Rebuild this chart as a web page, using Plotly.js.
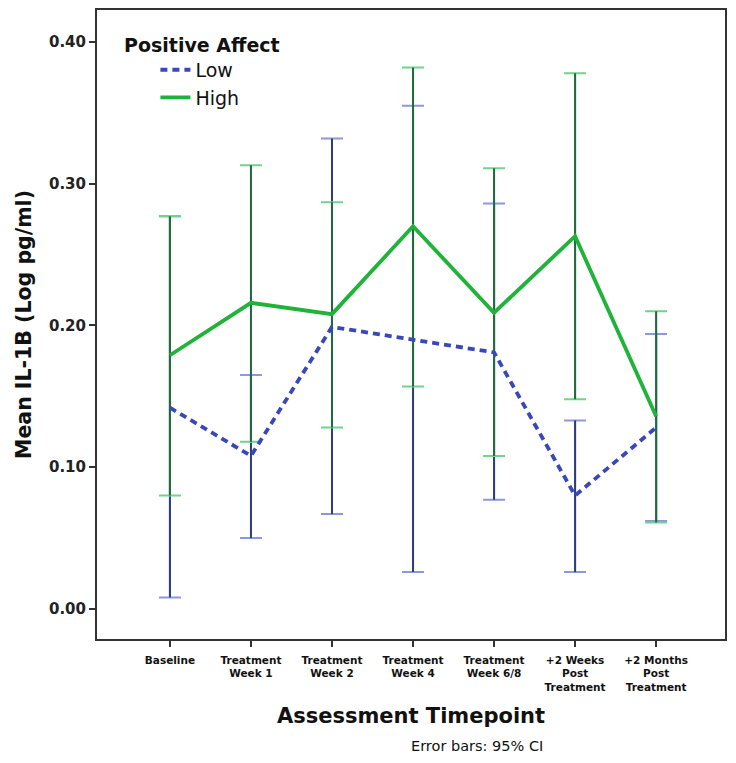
<!DOCTYPE html>
<html>
<head>
<meta charset="utf-8">
<script src="https://cdn.plot.ly/plotly-3.0.1.min.js"></script>
<style>
  body { margin: 0; background: #fff; }
  #chart { width: 736px; height: 763px; }
</style>
</head>
<body>
<div id="chart"></div>
<script>
// timepoints
let timepoints = ['Baseline', 'Treatment<br>Week 1', 'Treatment<br>Week 2', 'Treatment<br>Week 4',
                  'Treatment<br>Week 6/8', '+2 Weeks<br>Post<br>Treatment', '+2 Months<br>Post<br>Treatment'];

// Low positive affect: mean and 95% CI
let lowMean  = [0.142, 0.108, 0.199, 0.190, 0.181, 0.080, 0.128];
let lowUpper = [0.277, 0.165, 0.332, 0.355, 0.286, 0.133, 0.194];
let lowLower = [0.008, 0.050, 0.067, 0.026, 0.077, 0.026, 0.062];

// High positive affect
let highMean  = [0.179, 0.216, 0.208, 0.270, 0.209, 0.263, 0.136];
let highUpper = [0.277, 0.313, 0.287, 0.382, 0.311, 0.378, 0.210];
let highLower = [0.080, 0.118, 0.128, 0.157, 0.108, 0.148, 0.061];

let x = timepoints.map((t, i) => i);

// light caps first, dark stems on top (width 0 = no cap)
function errTrace(mean, up, lo, color, cap) {
    return {
        x: x, y: mean, type: 'scatter', mode: 'markers',
        marker: {size: 0.1, opacity: 0},
        showlegend: false, hoverinfo: 'skip',
        error_y: {
            type: 'data', symmetric: false,
            array: up.map((v, i) => v - mean[i]),
            arrayminus: mean.map((v, i) => v - lo[i]),
            color: color, thickness: 2, width: cap
        }
    };
}

let traces = [
    errTrace(lowMean, lowUpper, lowLower, '#8d97dc', 11),
    errTrace(lowMean, lowUpper, lowLower, '#2e3c7e', 0),
    errTrace(highMean, highUpper, highLower, '#6fd48c', 11),
    errTrace(highMean, highUpper, highLower, '#1f6a3c', 0),
    {
        x: x, y: lowMean, type: 'scatter', mode: 'lines', name: 'Low',
        line: {color: '#3848b8', width: 3.8, dash: '7px,5px'}
    },
    {
        x: x, y: highMean, type: 'scatter', mode: 'lines', name: 'High',
        line: {color: '#1fb33a', width: 3.8}
    }
];

let layout = {
    width: 736, height: 763,
    margin: {l: 97, r: 11, t: 10, b: 124},
    paper_bgcolor: '#fff', plot_bgcolor: '#fff',
    font: {family: 'DejaVu Sans, Verdana, sans-serif', color: '#111'},
    showlegend: true,
    legend: {
        x: 0.093, y: 0.935, xanchor: 'left', yanchor: 'top',
        bgcolor: 'rgba(0,0,0,0)', font: {size: 19},
        tracegroupgap: 0, itemwidth: 30
    },
    xaxis: {
        range: [-0.9, 6.85], showgrid: false, zeroline: false,
        tickmode: 'array', tickvals: x, ticktext: timepoints,
        ticks: 'outside', ticklen: 6, tickwidth: 2, tickcolor: '#333',
        ticklabelstandoff: 4,
        tickfont: {size: 10.5, weight: 'bold'},
        showline: true, linecolor: '#333', linewidth: 2, mirror: true,
        title: {text: '<b>Assessment Timepoint</b>', font: {size: 21}, standoff: 16}
    },
    yaxis: {
        range: [-0.0212, 0.4226], showgrid: false, zeroline: false,
        tickvals: [0, 0.1, 0.2, 0.3, 0.4], tickformat: '.2f',
        ticks: 'outside', ticklen: 6, tickwidth: 2, tickcolor: '#333',
        tickfont: {size: 15, weight: 'bold', color: '#222'},
        showline: true, linecolor: '#333', linewidth: 2, mirror: true,
        title: {text: '<b>Mean IL-1B (Log pg/ml)</b>', font: {size: 20.5}, standoff: 12}
    },
    annotations: [
        {
            text: '<b>Positive Affect</b>', xref: 'paper', yref: 'paper',
            x: 0.04, y: 0.944, xanchor: 'left', yanchor: 'middle',
            showarrow: false, font: {size: 19}
        },
        {
            text: 'Error bars: 95% CI', xref: 'paper', yref: 'paper',
            x: 0.605, y: -0.17, xanchor: 'center', yanchor: 'middle',
            showarrow: false, font: {size: 14.5}
        }
    ]
};

Plotly.newPlot('chart', traces, layout, {displayModeBar: false, staticPlot: true});
</script>
</body>
</html>
